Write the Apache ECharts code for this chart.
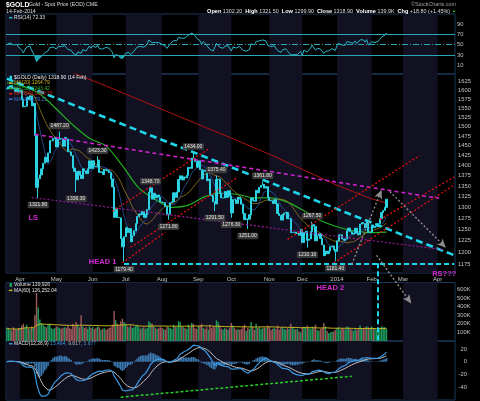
<!DOCTYPE html>
<html><head><meta charset="utf-8">
<script src="https://cdn.jsdelivr.net/npm/echarts@6/dist/echarts.min.js"></script>
<style>html,body{margin:0;padding:0;background:#000;}#c{width:480px;height:401px;}</style>
</head><body><div id="c"></div>
<script>
// ---------- DATA ----------
const closeMar13=[1605,1610,1614,1607,1605,1596,1606,1595];
const closeApr13=[1600,1575,1554,1556,1581,1574,1585,1557,1564,1477,1347,1368,1377,1392,1406,1421,1409,1432,1463,1463,1469,1472];
const closeMay13=[1447,1467,1469,1468,1449,1472,1468,1435,1434,1425,1394,1386,1365,1386,1377,1368,1392,1387,1380,1392,1412,1393];
const closeJun13=[1412,1398,1397,1414,1383,1385,1378,1391,1389,1387,1383,1367,1348,1277,1298,1277,1276,1230,1212,1234];
const closeJul13=[1254,1243,1252,1223,1236,1247,1263,1279,1285,1283,1291,1277,1284,1295,1335,1346,1319,1333,1322,1329,1324,1313];
const closeAug13=[1311,1311,1302,1283,1285,1311,1313,1334,1323,1336,1366,1375,1365,1372,1370,1376,1396,1393,1419,1418,1410,1396];
const closeSep13=[1412,1390,1367,1389,1386,1363,1367,1330,1327,1313,1308,1366,1367,1333,1322,1322,1337,1323,1339,1326];
const closeOct13=[1287,1318,1317,1309,1324,1320,1307,1286,1272,1274,1273,1283,1322,1316,1314,1340,1334,1347,1352,1354,1345,1349,1323];
const closeNov13=[1316,1315,1309,1318,1308,1286,1281,1271,1283,1287,1288,1274,1274,1243,1243,1244,1241,1242,1237,1250];
const closeDec13=[1221,1243,1246,1226,1229,1245,1261,1257,1225,1236,1240,1230,1216,1193,1203,1197,1203,1212,1214,1206,1202];
const closeJan14=[1225,1238,1238,1229,1226,1229,1247,1253,1245,1240,1241,1253,1242,1238,1262,1265,1263,1254,1268,1243,1244];
const closeFeb14=[1260,1254,1257,1257,1263,1274,1288,1293,1300,1318.9];

const volMar13=[150,140,130,120,160,140,130,150];
const volApr13=[150,180,200,160,190,150,140,170,160,300,560,390,250,210,190,170,160,190,200,150,140,150];
const volMay13=[170,160,150,140,150,160,150,180,150,140,200,170,220,190,160,300,170,150,160,140,170,150];
const volJun13=[160,140,150,170,160,130,140,150,130,140,150,160,190,350,240,200,180,230,260,220];
const volJul13=[200,170,160,180,150,160,170,190,160,140,150,160,140,150,230,210,200,170,150,140,150,160];
const volAug13=[150,140,130,170,160,150,140,190,170,160,230,220,170,160,150,140,190,160,210,200,150,140];
const volSep13=[170,180,200,150,140,160,130,190,150,170,160,240,220,180,140,130,150,140,130,150];
const volOct13=[210,180,150,130,140,130,140,160,190,120,150,140,220,160,130,200,150,160,140,150,160,150,180];
const volNov13=[160,130,140,150,140,180,130,150,160,140,130,150,140,200,160,140,130,140,110,100];
const volDec13=[160,170,150,180,160,140,170,150,190,130,120,140,150,210,170,120,90,100,110,110,130];
const volJan14=[150,160,130,150,140,130,170,160,140,130,120,140,130,140,180,150,140,160,170,160,150];
const volFeb14=[170,150,140,130,150,140,170,160,160,140];

const ma50Dates=['2013-03-19','2013-04-03','2013-04-17','2013-05-01','2013-05-15','2013-05-30','2013-06-13','2013-06-27','2013-07-12','2013-07-26','2013-08-09','2013-08-23','2013-09-09','2013-09-23','2013-10-07','2013-10-21','2013-11-04','2013-11-18','2013-12-03','2013-12-17','2014-01-02','2014-01-16','2014-01-31','2014-02-14'];
const ma50Values=[1622,1612,1590,1548,1505,1470,1450,1400,1345,1318,1300,1305,1325,1333,1330,1322,1322,1312,1292,1270,1256,1247,1243,1244];
const ma200Dates=['2013-05-15','2013-06-13','2013-07-12','2013-08-09','2013-09-09','2013-10-07','2013-11-04','2013-12-03','2014-01-02','2014-01-31','2014-02-14'];
const ma200Values=[1651,1613,1574,1536,1499,1463,1427,1389,1352,1321,1310];

// labelled highs / lows
const pivotDates=['2013-04-16','2013-05-03','2013-05-17','2013-06-06','2013-06-28','2013-07-23','2013-08-07','2013-08-28','2013-09-17','2013-09-18','2013-10-01','2013-10-15','2013-10-28','2013-12-05','2013-12-10','2013-12-31'];
const pivotValues=[1321.80,1487.20,1336.30,1423.30,1179.40,1348.70,1271.80,1434.00,1291.50,1375.40,1276.30,1251.00,1361.80,1210.10,1267.50,1181.40];
const pivotKinds=['L','H','L','H','L','H','L','H','L','H','L','L','H','L','H','L'];

// tick labels
const priceTicks=[1175,1200,1225,1250,1275,1300,1325,1350,1375,1400,1425,1450,1475,1500,1525,1550,1575,1600,1625];
const rsiTicks=[10,30,50,70,90];
const volTicks=[100000,200000,300000,400000,500000,600000];
const macdTicks=[-40,-20,0,20];

// hand-drawn annotations (date, price)
const cyanTrend=[['2013-03-19',1634],['2014-04-15',1194]];
const neckline=[['2013-06-28',1177],['2014-04-15',1177]];
const targetDrop=[['2014-02-07',1177],['2014-02-07',1025]];
const magentaUpper=[['2013-04-12',1480],['2014-04-02',1321]];
const magentaLower=[['2013-04-10',1323],['2014-04-04',1206]];
const redChannels=[
 [['2013-06-19',1291],['2013-09-12',1444]],
 [['2013-07-05',1211],['2013-10-07',1372]],
 [['2013-06-27',1178],['2013-08-05',1244]],
 [['2013-11-18',1228],['2014-03-17',1425]],
 [['2013-12-30',1178],['2014-04-15',1353]],
 [['2014-02-10',1272],['2014-04-15',1372]]
];
const grayArrows=[
 [['2014-01-15',1175],['2014-02-11',1341]],
 [['2014-02-19',1337],['2014-04-08',1210]],
 [['2014-02-06',1194],['2014-03-10',1096]]
];
const macdTrend=[['2013-06-26',-56],['2014-01-15',-23]];
const patternNames=['LS','HEAD 1','HEAD 2','RS???'];
const patternDates=['2013-04-11','2013-06-11','2013-12-26','2014-04-07'];
const patternPrices=[1276,1180,1127,1155];

const holidays=['2013-03-29','2013-05-27','2013-07-04','2013-09-02','2013-11-28','2013-12-25','2014-01-01','2014-01-20','2014-02-17'];

// ---------- BUILD ----------
const ln=Math.log;
const FONT="'Liberation Sans', Arial, sans-serif";
const dates=(function(){const out=[];const hol=new Set(holidays);let t=Date.UTC(2013,2,19);const end=Date.UTC(2014,3,15);
 while(t<=end){const d=new Date(t);const wd=d.getUTCDay();const s=d.toISOString().slice(0,10);if(wd!==0&&wd!==6&&!hol.has(s))out.push(s);t+=86400000;}return out;})();
const close=[].concat(closeMar13,closeApr13,closeMay13,closeJun13,closeJul13,closeAug13,closeSep13,closeOct13,closeNov13,closeDec13,closeJan14,closeFeb14);
const volume=[].concat(volMar13,volApr13,volMay13,volJun13,volJul13,volAug13,volSep13,volOct13,volNov13,volDec13,volJan14,volFeb14).map(v=>v*1000);
const pivotMap={};pivotDates.forEach((d,k)=>pivotMap[d]={v:pivotValues[k],t:pivotKinds[k]});

const ohlc=close.map((c,i)=>{const o=i?close[i-1]:c;let lo=Math.min(o,c),hi=Math.max(o,c);const pv=pivotMap[dates[i]];
 if(pv){if(pv.t==='H')hi=Math.max(hi,pv.v);else lo=Math.min(lo,pv.v);}return [ln(o),ln(c),ln(lo),ln(hi)];});
function sma(arr,n){return arr.map((_,i)=>{const s=Math.max(0,i-n+1);let t=0;for(let k=s;k<=i;k++)t+=arr[k];return t/(i-s+1);});}
function ema(arr,n){const a=2/(n+1);let e=arr[0];return arr.map((v,i)=>{e=i?a*v+(1-a)*e:v;return e;});}
function rsiCalc(arr,n){let m=0;for(let i=1;i<=n;i++)m+=Math.abs(arr[i]-arr[i-1]);m=m/n/2;let ag=m,al=m;const out=[50];
 for(let i=1;i<arr.length;i++){const d=arr[i]-arr[i-1];ag=(ag*(n-1)+Math.max(d,0))/n;al=(al*(n-1)+Math.max(-d,0))/n;out.push(100-100/(1+ag/al));}return out;}
const ma20=sma(close,20),ma9=sma(close,9);
const e12=ema(close,12),e26=ema(close,26);
const macd=e12.map((v,i)=>v-e26[i]);const sig=ema(macd,9);const hist=macd.map((v,i)=>v-sig[i]);
const rsi=rsiCalc(close,14);
const volMa=sma(volume,60);

// month bands (odd months shaded)
const bands=[];(function(){let s=0;for(let i=1;i<=dates.length;i++){if(i===dates.length||dates[i].slice(5,7)!==dates[i-1].slice(5,7)){
 const m=+dates[s].slice(5,7);if(m%2===1)bands.push([{xAxis:dates[s]},{xAxis:dates[Math.min(i,dates.length-1)]}]);s=i;}}})();
const MON=['Jan','Feb','Mar','Apr','May','Jun','Jul','Aug','Sep','Oct','Nov','Dec'];

const gridDefs=[{top:14,height:60},{top:74,height:199},{top:282.5,height:58.5},{top:341,height:59},{top:74,height:326}];
const BORDER='#1d3a5c';
const lab={color:'#c4c4c4',fontSize:5.8,fontFamily:FONT};

function shade(k){return {type:'line',xAxisIndex:k,yAxisIndex:k,data:[],z:0,silent:true,
 markArea:{silent:true,itemStyle:{color:'#111122'},data:bands}};}

function seg(a,b,style,arrow){return [{coord:[a[0],ln(a[1])],symbol:'none',lineStyle:style},
 {coord:[b[0],ln(b[1])],symbol:arrow?'arrow':'none',symbolSize:arrow?[6,9]:0,lineStyle:style}];}
const stCyan={color:'#20d6ea',width:2.6,type:[7,4]};
const stCyan2={color:'#20d6ea',width:2,type:[5,3]};
const stMagU={color:'#cc22cc',width:1.6,type:[4,3]};
const stMagL={color:'#a81ca8',width:1.1,type:[2,2]};
const stRed={color:'#e01010',width:1.3,type:[2,2]};
const stGray={color:'#8c8c8c',width:1.4,type:[2,2]};
const annot=[seg(cyanTrend[0],cyanTrend[1],stCyan),seg(neckline[0],neckline[1],stCyan2),seg(targetDrop[0],targetDrop[1],stCyan2),
 seg(magentaUpper[0],magentaUpper[1],stMagU),seg(magentaLower[0],magentaLower[1],stMagL)]
 .concat(redChannels.map(r=>seg(r[0],r[1],stRed)))
 .concat(grayArrows.map(r=>seg(r[0],r[1],stGray,true)));

const series=[];
[0,1,2,3].forEach(k=>series.push(shade(k)));
// RSI
series.push({type:'line',xAxisIndex:0,yAxisIndex:0,data:rsi,symbol:'none',z:4,lineStyle:{color:'#2ab8c8',width:1},
 markLine:{silent:true,symbol:'none',label:{show:false},animation:false,data:[
  {yAxis:70,lineStyle:{color:'#2aa6b6',width:1,type:'solid'}},
  {yAxis:30,lineStyle:{color:'#2aa6b6',width:1,type:'solid'}},
  {yAxis:50,lineStyle:{color:'#2aa6b6',width:1,type:[6,2,1,2]}}]}});
series.push({type:'line',xAxisIndex:0,yAxisIndex:0,stack:'hi',data:rsi.map(()=>70),symbol:'none',lineStyle:{opacity:0},z:3});
series.push({type:'line',xAxisIndex:0,yAxisIndex:0,stack:'hi',data:rsi.map(v=>Math.max(v-70,0)),symbol:'none',lineStyle:{opacity:0},areaStyle:{color:'#1fb4c4',opacity:0.9},z:3});
series.push({type:'line',xAxisIndex:0,yAxisIndex:0,stack:'lo',data:rsi.map(v=>Math.min(v,30)),symbol:'none',lineStyle:{opacity:0},z:3});
series.push({type:'line',xAxisIndex:0,yAxisIndex:0,stack:'lo',data:rsi.map(v=>30-Math.min(v,30)),symbol:'none',lineStyle:{opacity:0},areaStyle:{color:'#1fb4c4',opacity:0.9},z:3});
// price
series.push({type:'line',xAxisIndex:1,yAxisIndex:1,data:ma200Dates.map((d,k)=>[d,ln(ma200Values[k])]),symbol:'none',lineStyle:{color:'#b01212',width:1},z:2});
series.push({type:'line',xAxisIndex:1,yAxisIndex:1,data:ma50Dates.map((d,k)=>[d,ln(ma50Values[k])]),symbol:'none',smooth:0.3,lineStyle:{color:'#22b022',width:1.2},z:2});
series.push({type:'line',xAxisIndex:1,yAxisIndex:1,data:ma20.map(ln),symbol:'none',lineStyle:{color:'#9a7d1c',width:0.8},z:2});
series.push({type:'line',xAxisIndex:1,yAxisIndex:1,data:ma9.map(ln),symbol:'none',lineStyle:{color:'#2a58a8',width:0.8},z:2});
series.push({type:'candlestick',xAxisIndex:1,yAxisIndex:1,data:ohlc,barWidth:1.6,z:3,
 itemStyle:{color:'#2cd2e2',color0:'#2cd2e2',borderColor:'#2cd2e2',borderColor0:'#2cd2e2',borderWidth:1},
 markPoint:{silent:true,animation:false,symbol:'rect',symbolSize:1,itemStyle:{color:'rgba(0,0,0,0)'},
  label:{show:true,position:'inside',formatter:'{b}',fontSize:5,fontFamily:FONT,color:'#e6e6e6',backgroundColor:'#3a3a3a',padding:[1,1.5,0.5,1.5],borderRadius:1},
  data:pivotDates.map((d,k)=>({name:pivotValues[k].toFixed(2),coord:[d,ln(pivotValues[k])],label:{offset:[0,pivotKinds[k]==='H'?-5.5:7]}}))}});
// volume
series.push({type:'bar',xAxisIndex:2,yAxisIndex:2,barWidth:1.45,z:3,
 data:volume.map((v,i)=>({value:v,itemStyle:{color:(i&&close[i]<close[i-1])?'#9c5858':'#1c9a5c'}}))});
series.push({type:'line',xAxisIndex:2,yAxisIndex:2,data:volMa,symbol:'none',lineStyle:{color:'#c8b420',width:1},z:4});
// MACD
series.push({type:'bar',xAxisIndex:3,yAxisIndex:3,data:hist,barWidth:1.45,itemStyle:{color:'#3c7bb2'},z:2});
series.push({type:'line',xAxisIndex:3,yAxisIndex:3,data:sig,symbol:'none',lineStyle:{color:'#bdbdbd',width:1},z:3});
series.push({type:'line',xAxisIndex:3,yAxisIndex:3,data:macd,symbol:'none',lineStyle:{color:'#3a98e0',width:1.2},z:4,
 markLine:{silent:true,animation:false,label:{show:false},symbol:'none',
  data:[[{coord:macdTrend[0],symbol:'none',lineStyle:{color:'#28d028',width:1.5,type:[3,2]}},{coord:macdTrend[1],symbol:'none',lineStyle:{color:'#28d028',width:1.5,type:[3,2]}}]]}});
// overlay annotations
series.push({type:'line',xAxisIndex:4,yAxisIndex:4,data:[],z:10,silent:true,
 markLine:{silent:true,animation:false,label:{show:false},emphasis:{disabled:true},data:annot},
 markPoint:{silent:true,animation:false,symbol:'rect',symbolSize:1,itemStyle:{color:'rgba(0,0,0,0)'},
  label:{show:true,position:'inside',formatter:'{b}',fontSize:7.5,fontWeight:'bold',fontFamily:FONT,color:'#d22ad2'},
  data:patternNames.map((n,k)=>({name:n,coord:[patternDates[k],ln(patternPrices[k])]}))}});

const xAxis=gridDefs.map((g,k)=>({type:'category',gridIndex:k,data:dates,boundaryGap:true,
 axisLine:{show:false},axisTick:{show:false},splitLine:{show:false},
 axisLabel:k===1?Object.assign({},lab,{fontSize:6,margin:3,interval:(i,v)=>i>0&&v.slice(0,7)!==dates[i-1].slice(0,7),
  formatter:v=>{const m=+v.slice(5,7);return m===1?v.slice(0,4):MON[m-1];}}):{show:false}}));
function yA(k,o){return Object.assign({type:'value',gridIndex:k,position:'right',axisLine:{show:false},axisTick:{show:false},splitLine:{show:false}},o);}
const yAxis=[
 yA(0,{min:-6.9,max:109.4,axisLabel:Object.assign({},lab,{customValues:rsiTicks,margin:2})}),
 yA(1,{min:7.0535,max:7.4070,axisLabel:Object.assign({},lab,{customValues:priceTicks.map(ln),margin:3,formatter:v=>String(Math.round(Math.exp(v)))})}),
 yA(2,{min:0,max:680000,axisLabel:Object.assign({},lab,{customValues:volTicks,margin:2,formatter:v=>(v/1000)+'K'})}),
 yA(3,{min:-60.5,max:32.7,axisLabel:Object.assign({},lab,{customValues:macdTicks,margin:12,align:'right'})}),
 yA(4,{min:6.8279,max:7.4070,show:false})
];

function txt(x,y,t,size,fill,extra){return {type:'text',z:100,silent:true,style:Object.assign({x:x,y:y,text:t,fill:fill,fontSize:size,fontFamily:FONT,verticalAlign:'middle',align:'left'},extra||{})};}
function icon(x,y,color){return {type:'line',z:100,silent:true,shape:{x1:x,y1:y,x2:x+3.5,y2:y},style:{stroke:color,lineWidth:1.5}};}
const graphics=[
 txt(6,5,'$GOLD',6.8,'#ffffff',{fontWeight:'bold'}),
 txt(29,5,'Gold - Spot Price (EOD) CME',5.2,'#dddddd'),
 txt(6,11.5,'14-Feb-2014',5.2,'#dddddd'),
 txt(456,5,'\u00a9StockCharts.com',5.4,'#a0a0a0',{align:'right'}),
 txt(450,11.5,'{b|Open} 1302.20  {b|High} 1321.50  {b|Low} 1299.90  {b|Close} 1318.90  {b|Volume} 139.9K  {b|Chg} +18.80 (+1.45%)',5.4,'#dddddd',{align:'right',rich:{b:{fontWeight:'bold',fill:'#ffffff',fontSize:5.6,fontFamily:FONT}}}),
 txt(452,11,'\u25B2',4,'#22cc22'),
 icon(9,17.7,'#2ab8c8'), txt(14,17.7,'RSI(14) 72.33',5,'#e0e0e0'),
 {type:'rect',z:100,silent:true,shape:{x:9.5,y:75.7,width:2.5,height:4},style:{fill:'#2cd2e2'}},
 txt(14,77.7,'$GOLD (Daily) 1318.90 (14 Feb)',5,'#eeeeee'),
 icon(9,83,'#c8b420'), txt(14,83,'MA(20) 1264.79',5,'#c8b420'),
 icon(9,88.4,'#2fb42f'), txt(14,88.4,'MA(50) 1243.42',5,'#2fb42f'),
 icon(9,93.8,'#cc2222'), txt(14,93.8,'MA(200) 1289.79',5,'#cc2222'),
 icon(9,99.2,'#3c78d0'), txt(14,99.2,'MA(9) 1279.21',5,'#3c78d0'),
 {type:'rect',z:100,silent:true,shape:{x:9.5,y:283,width:2.5,height:4},style:{fill:'#1c9a5c'}},
 txt(14,285,'Volume 139,926',5,'#e0e0e0'),
 icon(9,290.4,'#c8b420'), txt(14,290.4,'MA(60) 126,252.04',5,'#e0e0e0'),
 icon(9,343.7,'#3a98e0'),
 txt(14,343.7,'MACD(12,26,9) {m|15.494,} {s|9.817,} {h|5.677}',5,'#e0e0e0',{rich:{m:{fill:'#3a98e0',fontSize:5,fontFamily:FONT},s:{fill:'#bdbdbd',fontSize:5,fontFamily:FONT},h:{fill:'#4a8cc4',fontSize:5,fontFamily:FONT}}})
];

const chart=echarts.init(document.getElementById('c'),null,{renderer:'canvas'});
chart.setOption({
 backgroundColor:'#000000',animation:false,
 textStyle:{fontFamily:FONT},
 grid:gridDefs.map((g,k)=>({left:6,width:449,top:g.top,height:g.height,show:k<4,borderColor:BORDER,borderWidth:1,backgroundColor:'transparent',outerBoundsMode:'none',containLabel:false})),
 xAxis:xAxis,yAxis:yAxis,series:series,graphic:graphics
});
</script></body></html>
